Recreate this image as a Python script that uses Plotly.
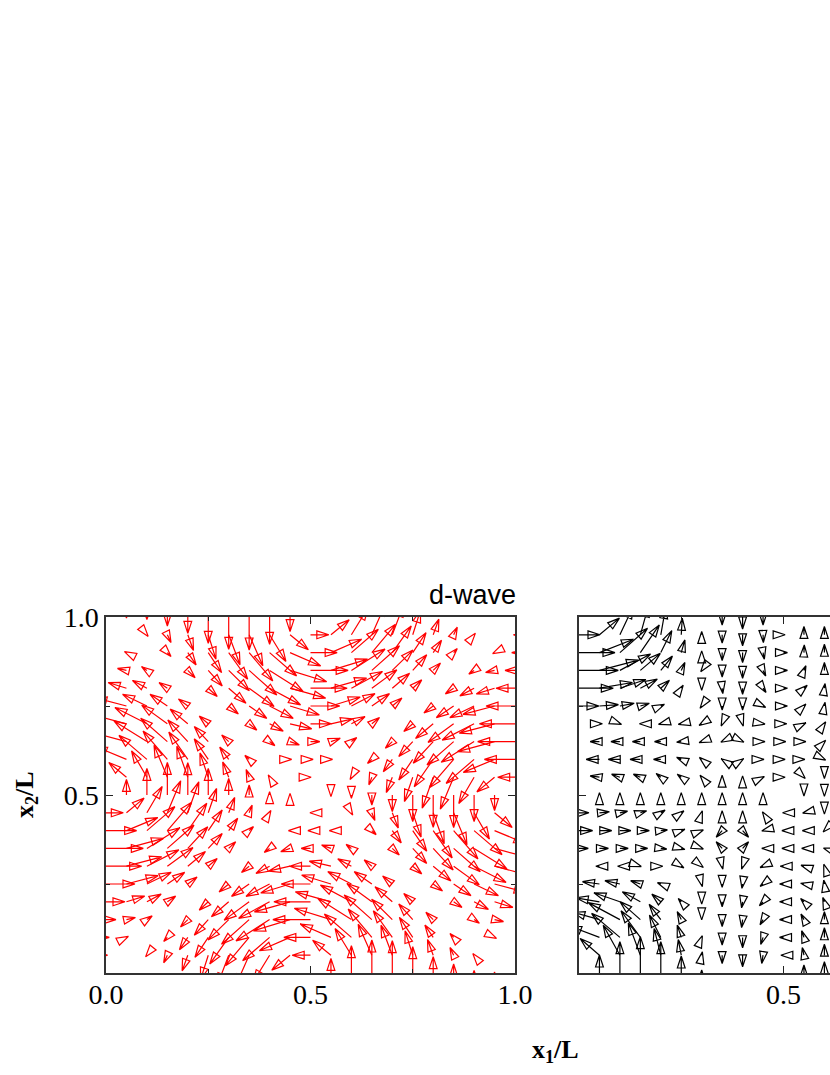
import plotly.graph_objects as go

N = None
# Vector components (u, v), one list per row of the grid, x = 0, 0.05, 0.10 ...
left_y100 = [N,(0,-3),(0,-8),(0,-27),(0,-49),(0,-79),(0,-97),(0,-99),(0,-82),(0,-44),N,N,N,N,N,N,N,N,N,N,N]
left_y095 = [N,N,(4,-5),(11,-23),(17,-47),(23,-73),(34,-90),(41,-93),(49,-80),(55,-45),(55,0),(55,45),(49,80),(41,93),(34,90),(23,73),(17,47),(11,23),(4,5),N,(-5,0)]
left_y090 = [N,(-6,3),N,(11,-12),(25,-37),(40,-60),(57,-80),(71,-85),(81,-70),(92,-40),(80,0),(92,40),(81,70),(71,85),(57,80),(40,60),(25,37),(11,12),N,(-6,-3),(-10,0)]
left_y085 = [N,(-27,6),(-16,11),N,(22,-22),(42,-47),(62,-61),(83,-74),(101,-64),(110,-34),(113,0),(110,34),(101,64),(83,74),(62,61),(42,47),(22,22),N,(-16,-11),(-27,-6),(-30,0)]
left_y080 = [N,(-55,17),(-43,23),(-25,17),N,(27,-25),(52,-45),(75,-55),(93,-50),(107,-30),(110,0),(107,30),(93,50),(75,55),(52,45),(27,25),N,(-25,-17),(-43,-23),(-55,-17),(-57,0)]
left_y075 = [N,(-95,25),(-73,35),(-52,35),(-28,21),N,(29,-24),(53,-37),(71,-37),(88,-27),(88,0),(88,27),(71,37),(53,37),(29,24),N,(-28,-21),(-52,-35),(-73,-35),(-95,-25),(-87,0)]
left_y070 = [N,(-106,28),(-96,49),(-77,56),(-53,44),(-27,23),N,(23,-19),(41,-22),(65,-15),(63,0),(65,15),(41,22),(23,19),N,(-27,-23),(-53,-44),(-77,-56),(-96,-49),(-106,-28),(-107,0)]
left_y065 = [N,(-111,30),(-99,62),(-80,70),(-60,65),(-42,45),(-21,20),N,(16,-12),(28,-10),(28,0),(28,10),(16,12),N,(-21,-20),(-42,-45),(-60,-65),(-80,-70),(-99,-62),(-111,-30),(-112,0)]
left_y060 = [N,(-94,39),(-84,72),(-73,85),(-57,82),(-42,62),(-27,37),(-13,12),N,(5,0),(8,0),(5,0),N,(-13,-12),(-27,-37),(-42,-62),(-57,-82),(-73,-85),(-84,-72),(-94,-39),(-92,0)]
left_y055 = [N,(-53,44),(-46,79),(-40,96),(-33,93),(-25,73),(-18,46),(-9,23),(-4,7),N,(2,0),N,(-4,-7),(-9,-23),(-18,-46),(-25,-73),(-33,-93),(-40,-96),(-46,-79),(-53,-44),(-52,0)]
left_y050 = [N,(0,47),(0,80),(0,98),(0,97),(0,80),(0,50),(0,30),(0,10),(0,5),N,(0,-5),(0,-10),(0,-30),(0,-50),(0,-80),(0,-97),(0,-98),(0,-80),(0,-47),N]
left_y045 = [(52,0),(53,44),(46,79),(40,96),(33,93),(25,73),(18,46),(9,23),(4,7),N,(-2,0),N,(4,-7),(9,-23),(18,-46),(25,-73),(33,-93),(40,-96),(46,-79),(53,-44),N]
left_y040 = [(92,0),(94,39),(84,72),(73,85),(57,82),(42,62),(27,37),(13,12),N,(-5,0),(-8,0),(-5,0),N,(13,-12),(27,-37),(42,-62),(57,-82),(73,-85),(84,-72),(94,-39),N]
left_y035 = [(112,0),(111,30),(99,62),(80,70),(60,65),(42,45),(21,20),N,(-16,-12),(-28,-10),(-28,0),(-28,10),(-16,12),N,(21,-20),(42,-45),(60,-65),(80,-70),(99,-62),(111,-30),N]
left_y030 = [(107,0),(106,28),(96,49),(77,56),(53,44),(27,23),N,(-23,-19),(-41,-22),(-65,-15),(-63,0),(-65,15),(-41,22),(-23,19),N,(27,-23),(53,-44),(77,-56),(96,-49),(106,-28),N]
left_y025 = [(87,0),(95,25),(73,35),(52,35),(28,21),N,(-29,-24),(-53,-37),(-71,-37),(-88,-27),(-88,0),(-88,27),(-71,37),(-53,37),(-29,24),N,(28,-21),(52,-35),(73,-35),(95,-25),N]
left_y020 = [(57,0),(55,17),(43,23),(25,17),N,(-27,-25),(-52,-45),(-75,-55),(-93,-50),(-107,-30),(-110,0),(-107,30),(-93,50),(-75,55),(-52,45),(-27,25),N,(25,-17),(43,-23),(55,-17),N]
left_y015 = [(30,0),(27,6),(16,11),N,(-22,-22),(-42,-47),(-62,-61),(-83,-74),(-101,-64),(-110,-34),(-113,0),(-110,34),(-101,64),(-83,74),(-62,61),(-42,47),(-22,22),N,(16,-11),(27,-6),N]
left_y010 = [(10,0),(6,3),N,(-11,-12),(-25,-37),(-40,-60),(-57,-80),(-71,-85),(-81,-70),(-92,-40),(-80,0),(-92,40),(-81,70),(-71,85),(-57,80),(-40,60),(-25,37),(-11,12),N,(6,-3),N]
left_y005 = [(5,0),N,(-4,-5),(-11,-23),(-17,-47),(-23,-73),(-34,-90),(-41,-93),(-49,-80),(-55,-45),(-55,0),(-55,45),(-49,80),(-41,93),(-34,90),(-23,73),(-17,47),(-11,23),(-4,5),N,N]
left_y000 = [N,N,N,N,N,N,N,N,N,N,N,(0,44),(0,82),(0,99),(0,97),(0,79),(0,49),(0,27),(0,8),(0,3),N]

right_y100 = [N,N,N,N,N,N,N,(0,-24),(0,-36),(0,-24),N,N,N]
right_y095 = [(63,0),(60,50),(40,85),(25,90),(15,85),(3,50),(0,10),(0,-25),(0,-33),(1,-23),(5,0),(0,25),(0,25)]
right_y090 = [(108,0),(102,40),(83,73),(57,83),(33,66),(11,38),(0,5),(0,-24),(0,-30),(4,-20),(12,0),(1,23),(0,25)]
right_y085 = [(118,0),(117,31),(92,49),(60,51),(35,43),(11,24),(-3,-4),(0,-20),(0,-24),(8,-17),(12,0),(6,14),(0,24)]
right_y080 = [(103,0),(99,17),(78,26),(51,27),(26,24),(6,9),(0,-6),(2,-16),(0,-18),(9,-13),(12,0),(10,9),(2,14)]
right_y075 = [(60,0),(57,4),(43,8),(27,8),(11,5),N,(-5,-7),(0,-12),(0,-12),(8,-4),(12,0),(6,6),(2,11)]
right_y070 = [N,(9,0),(5,-2),(-3,0),(-7,-2),(-9,-2),(-8,-5),(-3,-7),(2,-7),(6,-1),(10,0),(6,3),(4,6)]
right_y065 = [N,(-28,0),(-27,0),(-24,0),(-19,0),(-14,-2),(-8,-3),(-4,-2),(4,-2),(6,0),(7,0),(6,0),(4,4)]
right_y060 = [N,(-40,0),(-35,0),(-31,0),(-22,0),(-14,6),(-7,6),(-3,2),(3,2),(3,0),(5,0),(3,0),(4,-2)]
right_y055 = [N,(-28,4),(-25,9),(-21,9),(-14,11),(-12,9),(-5,6),(0,6),(0,4),(4,2),(5,0),(4,-4),(0,-4)]
right_y050 = [N,(0,7),(0,7),(0,7),(0,7),(0,7),(0,7),(0,7),(0,7),(0,7),N,(0,-3),(0,-4)]
right_y045 = [(30,0),(30,3),(23,5),(19,6),(13,8),(8,6),(2,6),(0,6),(0,6),(-2,3),(-3,0),(-4,-1),(0,-4)]
right_y040 = [(41,0),(37,0),(33,0),(27,0),(20,2),(11,4),(5,2),(-18,-20),(18,-20),(-4,-1),(-5,0),(-5,0),(-4,-4)]
right_y035 = [(28,0),(27,0),(25,0),(22,0),(18,-2),(11,-3),(5,-2),(-18,20),(18,20),(-4,0),(-5,0),(-7,0),(-3,1)]
right_y030 = [N,(-11,0),(-7,0),(3,-1),(6,0),(8,-5),(5,-4),(2,-9),(-3,-9),(-9,-4),(-10,0),(-9,3),(-2,6)]
right_y025 = [N,(-51,7),(-45,10),(-29,10),(-10,4),N,(2,-8),(0,-10),(-2,-13),(-9,-7),(-12,0),(-10,2),(-2,12)]
right_y020 = [N,(-70,12),(-78,27),(-54,30),(-27,23),(-9,10),(0,-7),(0,-15),(-3,-18),(-11,-12),(-12,0),(-10,10),(-5,13)]
right_y015 = [N,(-80,22),(-95,51),(-61,54),(-35,46),(-12,24),(0,-1),(0,-21),(-3,-24),(-9,-16),(-12,0),(-9,17),(0,24)]
right_y010 = [N,(-90,34),(-85,72),(-58,80),(-34,67),(-12,37),(2,5),(0,-23),(0,-31),(-7,-21),(-12,0),(-7,20),(0,29)]
right_y005 = [N,(-58,50),(-50,90),(-36,97),(-20,80),(-9,47),(2,10),(0,-25),(0,-35),(-4,-25),(-8,0),(-5,23),(0,33)]
right_y000 = [N,(0,54),(0,94),(0,109),(0,94),(0,51),(0,9),N,N,N,N,(0,24),(0,34)]

left_rows = [left_y000,left_y005,left_y010,left_y015,left_y020,left_y025,left_y030,left_y035,left_y040,left_y045,left_y050,
             left_y055,left_y060,left_y065,left_y070,left_y075,left_y080,left_y085,left_y090,left_y095,left_y100]
right_rows = [right_y000,right_y005,right_y010,right_y015,right_y020,right_y025,right_y030,right_y035,right_y040,right_y045,right_y050,
              right_y055,right_y060,right_y065,right_y070,right_y075,right_y080,right_y085,right_y090,right_y095,right_y100]

GRID_STEP = 0.05
x_tick_labels = ["0.0", "0.5", "1.0"]
y_tick_labels = ["0.5", "1.0"]

W, H = 830, 1075
PX, PY = 409.0, 356.0        # panel size on screen
VEC_SCALE = 3.0              # component units per screen pixel
HEAD_LEN, HEAD_HALF = 12.0, 3.9
SERIF = "Liberation Serif"


def arrows(rows):
    xs, ys = [], []
    for j, row in enumerate(rows):
        for i, vec in enumerate(row):
            if vec is None:
                continue
            u, v = vec
            ux, uy = u / VEC_SCALE, v / VEC_SCALE
            mag = (ux * ux + uy * uy) ** 0.5
            if mag == 0:
                continue
            dx, dy = ux / mag, uy / mag
            x0, y0 = i * GRID_STEP, j * GRID_STEP
            x1, y1 = x0 + ux / PX, y0 + uy / PY
            bx, by = ux - HEAD_LEN * dx, uy - HEAD_LEN * dy
            cx, cy = -dy * HEAD_HALF, dx * HEAD_HALF
            a = (x0 + (bx + cx) / PX, y0 + (by + cy) / PY)
            b = (x0 + (bx - cx) / PX, y0 + (by - cy) / PY)
            xs += [x0, x1, a[0], b[0], x1, None]
            ys += [y0, y1, a[1], b[1], y1, None]
    return xs, ys


fig = go.Figure()
lx, ly = arrows(left_rows)
rx, ry = arrows(right_rows)
fig.add_trace(go.Scatter(x=lx, y=ly, mode="lines", line=dict(color="#ff0000", width=1.2, simplify=False),
                         hoverinfo="skip", showlegend=False, xaxis="x", yaxis="y"))
fig.add_trace(go.Scatter(x=rx, y=ry, mode="lines", line=dict(color="#000000", width=1.2, simplify=False),
                         hoverinfo="skip", showlegend=False, xaxis="x2", yaxis="y2"))

tick_font = dict(family=SERIF, size=28, color="#000000")
axis_common = dict(showgrid=False, zeroline=False, showline=True, linecolor="#333333", linewidth=1.5,
                   ticks="inside", ticklen=7, tickwidth=1, tickcolor="#222222", tickfont=tick_font, automargin=False)
minor = dict(ticks="inside", ticklen=4, tickwidth=1, tickcolor="#222222", showgrid=False)

y_dom = [(H - 973) / H, (H - 617) / H]
fig.update_layout(
    template="none",
    width=W, height=H, margin=dict(l=0, r=0, t=0, b=0, pad=0), paper_bgcolor="white", plot_bgcolor="white",
    showlegend=False,
    xaxis=dict(domain=[106 / W, 515 / W], range=[0, 1], tickmode="array", tickvals=[0, 0.5, 1], ticktext=x_tick_labels,
               ticklabelstandoff=-4, mirror="allticks", minor=dict(tickmode="array", tickvals=[0.25, 0.75], **minor),
               anchor="y", **axis_common),
    yaxis=dict(domain=y_dom, range=[0, 1], tickmode="array", tickvals=[0.5, 1], ticktext=y_tick_labels,
               mirror="allticks", minor=dict(tickmode="array", tickvals=[0.25, 0.75], **minor), anchor="x", **axis_common),
    xaxis2=dict(domain=[579 / W, 1], range=[0, (W - 579) / PX], tickmode="array", tickvals=[0.5], ticktext=["0.5"],
                ticklabelstandoff=-4, mirror="allticks", minor=dict(tickmode="array", tickvals=[0.25], **minor),
                anchor="y2", **axis_common),
    yaxis2=dict(domain=y_dom, range=[0, 1], tickmode="array", tickvals=[0.5], showticklabels=False,
                minor=dict(tickmode="array", tickvals=[0.25, 0.75], **minor), anchor="x2", **axis_common),
    annotations=[
        dict(text="d-wave", xref="paper", yref="paper", x=472 / W, y=(H - 595) / H, xanchor="center", yanchor="middle",
             showarrow=False, font=dict(family="Liberation Sans", size=27, color="#000000")),
        dict(text="<b>x<sub>1</sub>/L</b>", xref="paper", yref="paper", x=555 / W, y=(H - 1051) / H, xanchor="center",
             yanchor="middle", showarrow=False, font=dict(family=SERIF, size=26, color="#000000")),
        dict(text="<b>x<sub>2</sub>/L</b>", xref="paper", yref="paper", x=26 / W, y=(H - 795) / H, xanchor="center",
             yanchor="middle", textangle=-90, showarrow=False, font=dict(family=SERIF, size=26, color="#000000")),
    ],
)

fig.write_html("out.html", config=dict(displayModeBar=False),
               post_script="document.body.style.margin='0';document.documentElement.style.overflow='hidden';")
